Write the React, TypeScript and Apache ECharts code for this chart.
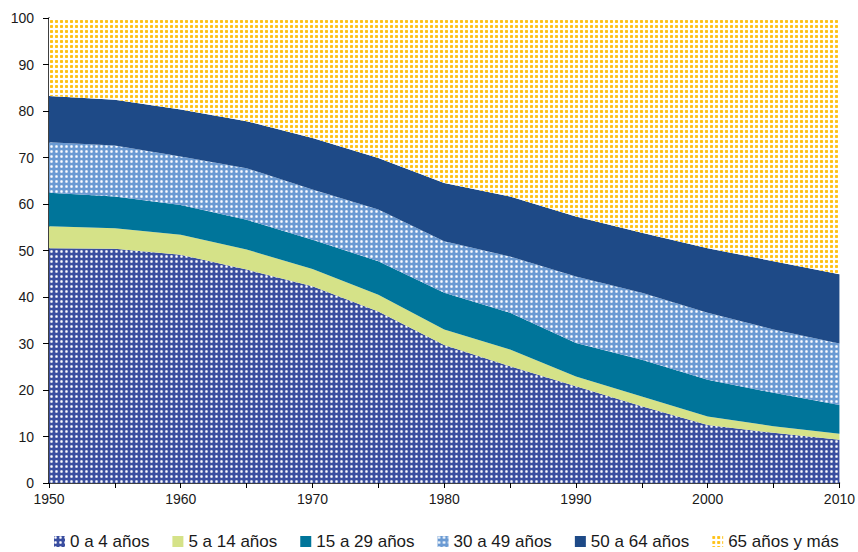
import React, { useEffect, useRef } from "react";
import * as echarts from "echarts";

const years = ["1950", "1955", "1960", "1965", "1970", "1975", "1980", "1985", "1990", "1995", "2000", "2005", "2010"];
const seriesNames = ["0 a 4 años", "5 a 14 años", "15 a 29 años", "30 a 49 años", "50 a 64 años", "65 años y más"];
const age0_4 = [50.5, 50.4, 49.1, 45.9, 42.3, 36.9, 29.7, 25.1, 20.8, 16.5, 12.5, 10.8, 9.3];
const age5_14 = [4.7, 4.4, 4.3, 4.3, 3.7, 3.6, 3.3, 3.6, 2.1, 2.1, 1.8, 1.4, 1.3];
const age15_29 = [7.2, 6.8, 6.4, 6.4, 6.3, 7.2, 7.9, 7.9, 7.2, 7.9, 7.9, 7.2, 6.2];
const age30_49 = [10.9, 11.0, 10.4, 11.1, 10.8, 11.1, 11.1, 12.1, 14.3, 14.4, 14.4, 13.6, 13.2];
const age50_64 = [9.9, 9.8, 10.1, 10.1, 11.1, 11.1, 12.5, 12.9, 12.9, 12.9, 13.9, 14.7, 14.9];
const age65 = [16.8, 17.6, 19.7, 22.2, 25.8, 30.1, 35.5, 38.4, 42.7, 46.2, 49.5, 52.3, 55.1];

const yTicks = [0, 10, 20, 30, 40, 50, 60, 70, 80, 90, 100];

export default function App() {
  const ref = useRef<HTMLDivElement>(null);
  useEffect(() => {
    if (!ref.current) return;
    const chart = echarts.init(ref.current, null, { renderer: "svg" });
    const values = [age0_4, age5_14, age15_29, age30_49, age50_64, age65];
    const fills = ["#3A4EA0", "#D5E288", "#00759A", "#6A9AD3", "#1E4A87", "#FFFFFF"];
    const dot = { symbol: "roundRect", dashArrayX: [3, 2], dashArrayY: [3, 2] };
    const decals: any[] = [
      { ...dot, symbolSize: 0.8, color: "#FFFFFF" },
      null,
      null,
      { ...dot, symbolSize: 0.8, color: "#FFFFFF" },
      null,
      { ...dot, symbolSize: 1, color: "#FFC217" },
    ];
    const series = values.map((vals, i) => {
      const itemStyle: any = { color: fills[i] };
      if (decals[i]) itemStyle.decal = decals[i];
      return {
        name: seriesNames[i],
        type: "line",
        stack: "total",
        symbol: "none",
        lineStyle: { width: 0, opacity: 0 },
        areaStyle: { color: fills[i], opacity: 1 },
        itemStyle,
        data: vals,
      };
    });
    chart.setOption({
      animation: false,
      textStyle: { fontFamily: "Liberation Sans, Arial, sans-serif" },
      grid: { left: 49, right: 11, top: 18, bottom: 69, containLabel: false },
      legend: {
        data: seriesNames,
        icon: "rect",
        itemWidth: 11,
        itemHeight: 11,
        itemGap: 23,
        left: 49,
        top: 528,
        textStyle: { fontSize: 17, lineHeight: 17, color: "#1a1a1a", fontFamily: "Liberation Sans, Arial, sans-serif" },
      },
      xAxis: {
        type: "category",
        data: years,
        boundaryGap: false,
        axisLine: { show: true, lineStyle: { color: "#000", width: 1.5 } },
        axisTick: { show: true, length: 5, interval: 0, lineStyle: { color: "#000" } },
        splitLine: { show: false },
        axisLabel: { fontSize: 14, color: "#1a1a1a", margin: 9, interval: 1 },
      },
      yAxis: {
        type: "value",
        min: yTicks[0],
        max: yTicks[yTicks.length - 1],
        interval: 10,
        axisLine: { show: true, lineStyle: { color: "#000", width: 1.5 } },
        axisTick: { show: true, length: 6, lineStyle: { color: "#000" } },
        splitLine: { show: false },
        axisLabel: { fontSize: 14, color: "#1a1a1a", margin: 15 },
      },
      series,
    });
    return () => chart.dispose();
  }, []);
  return (
    <div
      ref={ref}
      style={{ position: "fixed", left: 0, top: 0, width: 858, height: 552, background: "#fff" }}
    />
  );
}
